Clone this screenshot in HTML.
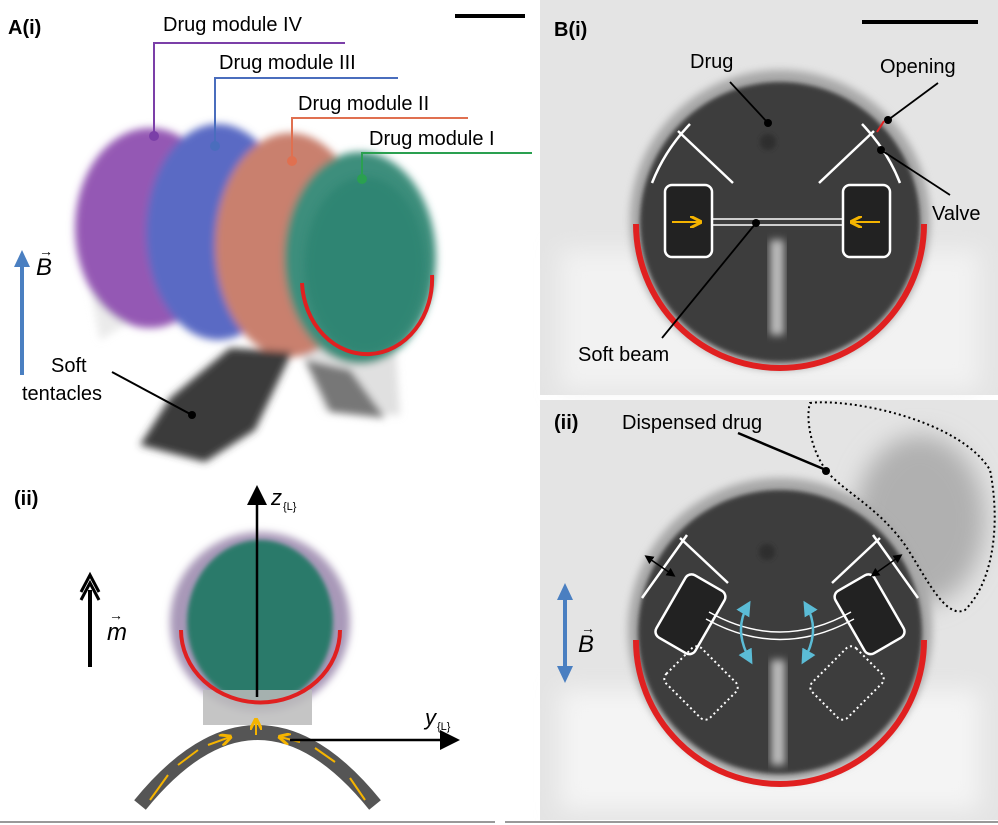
<!DOCTYPE html>
<html><head><meta charset="utf-8"><style>
body{margin:0;background:#fff;}
svg{display:block;font-family:"Liberation Sans",sans-serif;}
</style></head><body>
<svg width="998" height="825" viewBox="0 0 998 825" xmlns="http://www.w3.org/2000/svg">
<defs>
<filter id="bl" x="-20%" y="-20%" width="140%" height="140%"><feGaussianBlur stdDeviation="4"/></filter>
<filter id="bl1" x="-20%" y="-20%" width="140%" height="140%"><feGaussianBlur stdDeviation="2"/></filter>
<filter id="bl2" x="-30%" y="-30%" width="160%" height="160%"><feGaussianBlur stdDeviation="12"/></filter>
<marker id="ah" markerWidth="8" markerHeight="8" refX="6" refY="4" orient="auto"><path d="M0,0 L8,4 L0,8 z" fill="#000"/></marker>
<marker id="ay" markerWidth="6" markerHeight="6" refX="5" refY="3" orient="auto"><path d="M0,0 L6,3 L0,6" fill="none" stroke="#f5b400" stroke-width="1.5"/></marker>
<marker id="ab" markerWidth="6" markerHeight="6" refX="4" refY="3" orient="auto-start-reverse"><path d="M0,0 L6,3 L0,6 z" fill="#000"/></marker>
<marker id="ac" markerWidth="6" markerHeight="6" refX="4" refY="3" orient="auto-start-reverse"><path d="M0,0 L6,3 L0,6 z" fill="#5bbcd6"/></marker>
</defs>
<rect width="998" height="825" fill="#fff"/>
<!-- B(i) panel -->
<rect x="540" y="0" width="458" height="395" fill="#e4e4e4"/>
<rect x="560" y="250" width="420" height="140" fill="#f2f2f2" filter="url(#bl2)"/>
<circle cx="780" cy="220" r="150" fill="#a8a8a8" filter="url(#bl)"/>
<circle cx="780" cy="222" r="140" fill="#3c3c3c" filter="url(#bl1)"/>
<rect x="770" y="240" width="14" height="95" fill="#bbb" filter="url(#bl)"/>
<circle cx="768" cy="142" r="8" fill="#2e2e2e" filter="url(#bl1)"/>
<path d="M636 224 A144 144 0 0 0 924 224" fill="none" stroke="#e02020" stroke-width="6"/>
<g stroke="#fff" stroke-width="2.5" fill="none">
<path d="M652 183 Q665 150 690 124 M678 131 L733 183"/>
<path d="M900 183 Q887 150 862 124 M874 131 L819 183"/>
<rect x="665" y="185" width="47" height="72" rx="7" fill="#222"/>
<rect x="843" y="185" width="47" height="72" rx="7" fill="#222"/>
<path d="M712 219 L843 219 M712 225 L843 225" stroke-width="1.5"/>
</g>
<path d="M672 222 L700 222" stroke="#f5b400" stroke-width="2" marker-end="url(#ay)"/>
<path d="M880 222 L852 222" stroke="#f5b400" stroke-width="2" marker-end="url(#ay)"/>
<rect x="455" y="14" width="70" height="4" fill="#000"/>
<rect x="862" y="20" width="116" height="4" fill="#000"/>
<text x="554" y="36" font-size="20" font-weight="bold">B(i)</text>
<text x="690" y="68" font-size="20">Drug</text>
<text x="880" y="73" font-size="20">Opening</text>
<text x="932" y="220" font-size="20">Valve</text>
<text x="578" y="361" font-size="20">Soft beam</text>
<g stroke="#000" stroke-width="1.8"><line x1="730" y1="82" x2="768" y2="123"/><line x1="938" y1="83" x2="888" y2="120"/><line x1="881" y1="150" x2="950" y2="195"/><line x1="662" y1="338" x2="756" y2="223"/></g>
<g fill="#000"><circle cx="768" cy="123" r="4"/><circle cx="888" cy="120" r="4"/><circle cx="881" cy="150" r="4"/><circle cx="756" cy="223" r="4"/></g>
<line x1="877" y1="132" x2="884" y2="121" stroke="#e02020" stroke-width="2"/>
<!-- B(ii) panel -->
<rect x="540" y="400" width="458" height="420" fill="#e4e4e4"/>
<rect x="560" y="690" width="420" height="120" fill="#f4f4f4" filter="url(#bl2)"/>
<ellipse cx="920" cy="520" rx="65" ry="85" fill="#b0b0b0" filter="url(#bl2)"/>
<circle cx="780" cy="630" r="152" fill="#a8a8a8" filter="url(#bl)"/>
<circle cx="780" cy="632" r="142" fill="#3c3c3c" filter="url(#bl1)"/>
<rect x="771" y="660" width="14" height="105" fill="#bbb" filter="url(#bl)"/>
<circle cx="767" cy="552" r="8" fill="#2e2e2e" filter="url(#bl1)"/>
<path d="M636 640 A144 144 0 0 0 924 640" fill="none" stroke="#e02020" stroke-width="6"/>
<path d="M810 403 C850 398 960 420 990 470 C1000 520 995 580 965 610 C945 620 925 575 905 545 C880 510 850 495 830 475 C812 455 805 420 810 403 Z" fill="none" stroke="#000" stroke-width="2" stroke-dasharray="2,3"/>
<g stroke="#fff" stroke-width="2.5" fill="none">
<path d="M642 598 L687 535 M680 538 L728 583"/>
<path d="M918 598 L873 535 M880 538 L832 583"/>
<rect x="668" y="578" width="45" height="72" rx="7" fill="#222" transform="rotate(30 690 614)"/>
<rect x="847" y="578" width="45" height="72" rx="7" fill="#222" transform="rotate(-30 870 614)"/>
<path d="M709 612 Q780 652 851 612 M706 619 Q780 660 854 619" stroke-width="1.5"/>
<g stroke-dasharray="2,3" stroke-width="2"><rect x="676" y="652" width="50" height="62" rx="7" transform="rotate(-45 701 683)"/><rect x="822" y="652" width="50" height="62" rx="7" transform="rotate(45 847 683)"/></g>
</g>
<g stroke="#5bbcd6" stroke-width="2.5" fill="none"><path d="M748 605 Q733 630 750 660" marker-start="url(#ac)" marker-end="url(#ac)"/><path d="M806 605 Q821 630 804 660" marker-start="url(#ac)" marker-end="url(#ac)"/></g>
<line x1="647" y1="557" x2="673" y2="575" stroke="#000" stroke-width="1.5" marker-end="url(#ab)" marker-start="url(#ab)"/>
<line x1="873" y1="575" x2="900" y2="556" stroke="#000" stroke-width="1.5" marker-end="url(#ab)" marker-start="url(#ab)"/>
<line x1="565" y1="598" x2="565" y2="668" stroke="#4a7fc1" stroke-width="4"/>
<path d="M557 600 L565 583 L573 600 Z M557 666 L565 683 L573 666 Z" fill="#4a7fc1"/>
<text x="578" y="652" font-size="24" font-style="italic">B</text>
<text x="581" y="633" font-size="14">→</text>
<text x="554" y="429" font-size="20" font-weight="bold">(ii)</text>
<text x="622" y="429" font-size="20">Dispensed drug</text>
<line x1="738" y1="433" x2="826" y2="470" stroke="#000" stroke-width="2.5"/><circle cx="826" cy="471" r="4"/>
<!-- A(i) -->
<text x="8" y="34" font-size="20" font-weight="bold">A(i)</text>
<g filter="url(#bl)">
<polygon points="82,245 100,340 150,310 140,260" fill="#ddd" opacity="0.6"/>
<polygon points="300,350 395,340 400,415 325,412" fill="#ccc" opacity="0.6"/>
<ellipse cx="150" cy="228" rx="75" ry="100" fill="#9458b4"/>
<ellipse cx="218" cy="232" rx="72" ry="108" fill="#5a6ac4"/>
<ellipse cx="290" cy="245" rx="75" ry="112" fill="#c9806e"/>
<ellipse cx="360" cy="258" rx="76" ry="106" fill="#3c8e7c"/>
<polygon points="140,445 170,398 230,348 292,352 255,430 205,462" fill="#3a3a3a"/>
<polygon points="305,360 350,370 385,418 330,412" fill="#777"/>
</g>
<ellipse cx="365" cy="265" rx="60" ry="88" fill="#2a8270" opacity="0.7" filter="url(#bl)"/>
<path d="M302 283 A65 75 0 0 0 432 275" fill="none" stroke="#e02020" stroke-width="4"/>
<g stroke-width="2" fill="none">
<path d="M345 43 L154 43 L154 135" stroke="#7b3fa8"/>
<path d="M398 78 L215 78 L215 145" stroke="#4a6dbd"/>
<path d="M468 118 L292 118 L292 160" stroke="#e07050"/>
<path d="M532 153 L362 153 L362 178" stroke="#2aa050"/>
</g>
<circle cx="154" cy="136" r="5" fill="#7b3fa8"/><circle cx="215" cy="146" r="5" fill="#4a6dbd"/><circle cx="292" cy="161" r="5" fill="#e07050"/><circle cx="362" cy="179" r="5" fill="#2aa050"/>
<text x="163" y="31" font-size="20">Drug module IV</text>
<text x="219" y="69" font-size="20">Drug module III</text>
<text x="298" y="110" font-size="20">Drug module II</text>
<text x="369" y="145" font-size="20">Drug module I</text>
<line x1="22" y1="375" x2="22" y2="265" stroke="#4a7fc1" stroke-width="4"/>
<path d="M14 267 L22 250 L30 267 Z" fill="#4a7fc1"/>
<text x="36" y="275" font-size="24" font-style="italic">B</text>
<text x="39" y="256" font-size="14">→</text>
<text x="51" y="372" font-size="20">Soft</text>
<text x="22" y="400" font-size="20">tentacles</text>
<line x1="112" y1="372" x2="192" y2="415" stroke="#000" stroke-width="2"/><circle cx="192" cy="415" r="4"/>
<!-- A(ii) -->
<text x="14" y="505" font-size="20" font-weight="bold">(ii)</text>
<circle cx="260" cy="622" r="90" fill="#a898b8" filter="url(#bl)"/>
<ellipse cx="260" cy="622" rx="73" ry="82" fill="#2a7a6a" filter="url(#bl1)"/>
<rect x="203" y="690" width="109" height="35" fill="#bbb" opacity="0.85"/>
<path d="M181 630 A79 72 0 0 0 340 630" fill="none" stroke="#e02020" stroke-width="4"/>
<path d="M140 805 Q258 660 375 805" fill="none" stroke="#555" stroke-width="15"/>
<path d="M150 800 L168 775 M178 765 L198 750 M208 745 L230 737" stroke="#f5b400" stroke-width="2" marker-end="url(#ay)"/>
<path d="M365 800 L350 778 M335 762 L315 748 M300 742 L280 737" stroke="#f5b400" stroke-width="2" marker-end="url(#ay)"/>
<line x1="256" y1="735" x2="256" y2="720" stroke="#f5b400" stroke-width="2" marker-end="url(#ay)"/>
<line x1="257" y1="697" x2="257" y2="490" stroke="#000" stroke-width="2.5" marker-end="url(#ah)"/>
<line x1="290" y1="740" x2="455" y2="740" stroke="#000" stroke-width="2.5" marker-end="url(#ah)"/>
<text x="271" y="505" font-size="22" font-style="italic">z</text><text x="283" y="510" font-size="11">{L}</text>
<text x="425" y="725" font-size="22" font-style="italic">y</text><text x="437" y="730" font-size="11">{L}</text>
<line x1="90" y1="667" x2="90" y2="590" stroke="#000" stroke-width="4"/>
<path d="M81 600 L90 583 L99 600 M81 592 L90 575 L99 592" fill="none" stroke="#000" stroke-width="3"/>
<text x="107" y="640" font-size="24" font-style="italic">m</text><text x="109" y="620" font-size="14">→</text>
<line x1="0" y1="822" x2="495" y2="822" stroke="#999" stroke-width="2"/>
<line x1="505" y1="822" x2="998" y2="822" stroke="#999" stroke-width="2"/>
</svg>
</body></html>
